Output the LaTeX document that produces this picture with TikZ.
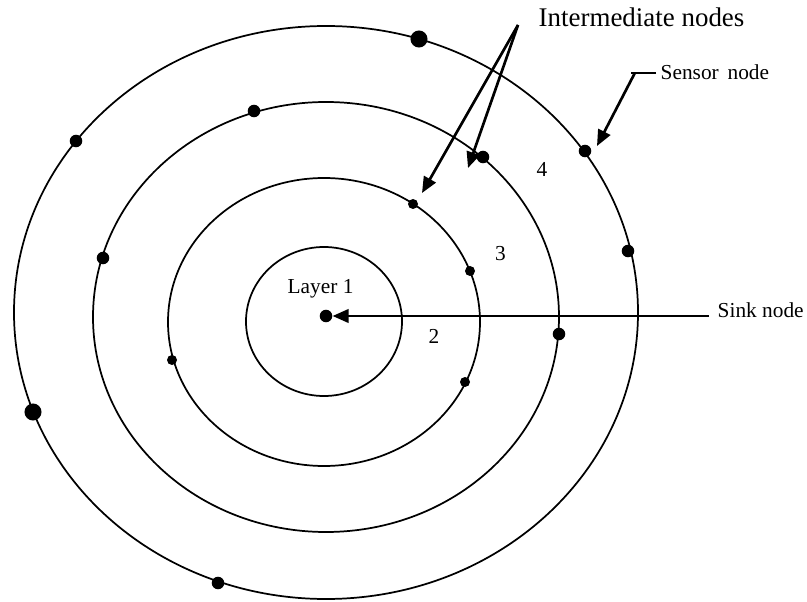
\documentclass[tikz,border=0pt]{standalone}
\usepackage{fontspec}
\setmainfont{Liberation Serif}
\usetikzlibrary{arrows.meta}

\begin{document}
\begin{tikzpicture}[x=0.75pt,y=-0.75pt,
  layer/.style={line width=1.3pt},
  sdot/.style={circle,fill,inner sep=0pt,minimum size=7.5pt},
  mdot/.style={circle,fill,inner sep=0pt,minimum size=9.4pt},
  bdot/.style={circle,fill,inner sep=0pt,minimum size=12.8pt},
  lbl/.style={font=\fontsize{16}{19}\selectfont},
  biglbl/.style={font=\fontsize{20.2}{24}\selectfont},
  pointer/.style={-{Triangle[length=12pt,width=10pt]},line width=2pt}]
  \useasboundingbox (0,0) rectangle (807,602);
  % layers
  \draw[layer] (324,321.5) ellipse [x radius=78, y radius=74.5];
  \draw[layer] (324,322) ellipse [x radius=156, y radius=144];
  \draw[layer] (326,317) ellipse [x radius=233, y radius=215];
  \draw[layer] (326,312.5) ellipse [x radius=312, y radius=286.5];
  % sensor nodes
  \foreach \x/\y [count=\i] in {413/204,470/271,172/360,465/382}{
    \node[sdot] (sn\i) at (\x,\y) {};
  }
  \foreach \x/\y [count=\i] in {76/141,254/111,103/258,628/251,483/157,218/583,559/334}{
    \node[mdot] (mn\i) at (\x,\y) {};
  }
  \foreach \x/\y [count=\i] in {419/39,33/412}{
    \node[bdot] (bn\i) at (\x,\y) {};
  }
  \node[mdot] (sens) at (585,151) {};
  \node[mdot] (sink) at (326,316) {};
  % labels
  \node[lbl,anchor=base west] (lay1) at (283,294) {Layer 1};
  \node[lbl,anchor=base] (lay2) at (434,344) {2};
  \node[lbl,anchor=base] (lay3) at (500.5,261) {3};
  \node[lbl,anchor=base] (lay4) at (542,177) {4};
  \node[biglbl,anchor=base west] (imlbl) at (534,27) {Intermediate nodes};
  \node[lbl,anchor=base west] (snslbl) at (656,80) {Sensor\, node};
  \node[lbl,anchor=base west] (sinklbl) at (713,318) {Sink node};
  % pointers
  \coordinate (imsrc) at ([shift={(-16,-2)}]imlbl.base west);
  \coordinate (imtipa) at (422,193);
  \coordinate (imtipb) at (468,168);
  \draw[pointer] (imsrc) -- (imtipa);
  \draw[pointer] (imsrc) -- (imtipb);
  \draw[line width=1.3pt] (snslbl.west) -- ++(-25,0) coordinate (stick);
  \coordinate (stip) at (597,146);
  \draw[pointer] ([xshift=3pt]stick) -- (stip);
  \draw[pointer] ([xshift=-3pt]sinklbl.west |- sink.east) -- (sink.east);
\end{tikzpicture}
\end{document}
